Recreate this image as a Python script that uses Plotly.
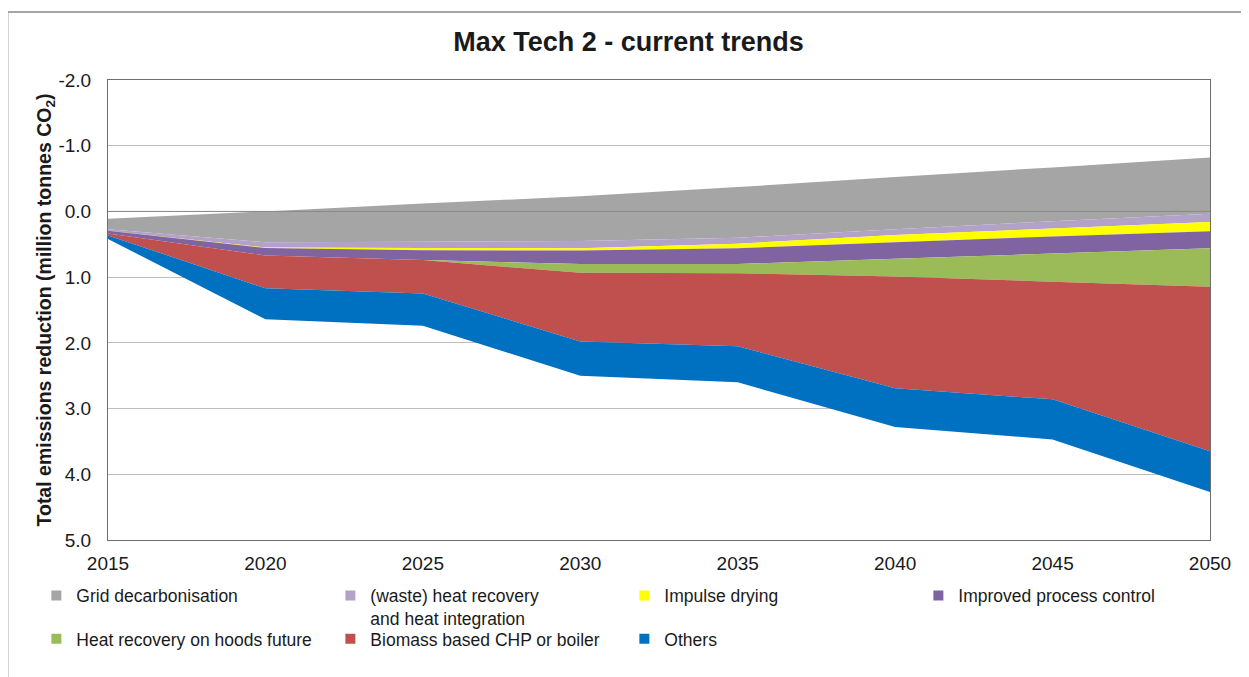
import plotly.graph_objects as go

years = [2015, 2020, 2025, 2030, 2035, 2040, 2045, 2050]

y_ticks = [-2, -1, 0, 1, 2, 3, 4, 5]
y_tick_labels = ["-2.0", "-1.0", "0.0", "1.0", "2.0", "3.0", "4.0", "5.0"]

# upper edge of the grey band (the stack starts here, not at zero)
grid_top = [0.11, 0.0, -0.12, -0.23, -0.37, -0.525, -0.67, -0.82]

grid_decarbonisation = [0.16, 0.47, 0.58, 0.68, 0.77, 0.795, 0.82, 0.855]
waste_heat_recovery = [0.025, 0.08, 0.095, 0.11, 0.09, 0.09, 0.11, 0.125]
impulse_drying = [0.0, 0.005, 0.035, 0.035, 0.07, 0.11, 0.12, 0.14]
improved_process_control = [0.04, 0.115, 0.15, 0.205, 0.24, 0.25, 0.26, 0.26]
heat_recovery_hoods = [0.0, 0.0, 0.0, 0.135, 0.14, 0.27, 0.43, 0.585]
biomass_chp = [0.03, 0.50, 0.51, 1.045, 1.11, 1.70, 1.79, 2.505]
others = [0.055, 0.47, 0.49, 0.52, 0.55, 0.59, 0.61, 0.62]

# (label, values, colour, legend row)
series = [
    ("Grid decarbonisation", grid_decarbonisation, "#a5a5a5", "legend"),
    ("(waste) heat recovery<br>and heat integration", waste_heat_recovery, "#b3a2c7", "legend"),
    ("Impulse drying", impulse_drying, "#ffff00", "legend"),
    ("Improved process control", improved_process_control, "#8064a2", "legend"),
    ("Heat recovery on hoods future", heat_recovery_hoods, "#9bbb59", "legend2"),
    ("Biomass based CHP or boiler", biomass_chp, "#c0504d", "legend2"),
    ("Others", others, "#0070c0", "legend2"),
]

fig = go.Figure()

fig.add_trace(go.Scatter(
    x=years, y=grid_top, stackgroup="s", mode="none",
    fillcolor="rgba(0,0,0,0)", showlegend=False, hoverinfo="skip",
))

for name, values, color, _ in series:
    fig.add_trace(go.Scatter(
        x=years, y=values, stackgroup="s", mode="none",
        fillcolor=color, name=name, showlegend=False, legendgroup=name,
    ))

# square legend swatches like the original, split over two rows
for name, values, color, row in series:
    fig.add_trace(go.Scatter(
        x=[None], y=[None], mode="markers", name=name, legendgroup=name,
        legend=row, marker=dict(symbol="square", size=10, color=color),
    ))

font = "Liberation Sans, Arial, sans-serif"
legend_style = dict(
    orientation="h",
    x=-0.065, xanchor="left",
    yanchor="top",
    entrywidth=249, entrywidthmode="pixels",
    valign="top",
    font=dict(size=17.5),
    itemclick=False,
    bgcolor="rgba(0,0,0,0)",
)

fig.update_layout(
    width=1241,
    height=669,
    margin=dict(l=100, r=39, t=72, b=137),
    paper_bgcolor="white",
    plot_bgcolor="white",
    font=dict(family=font, size=19, color="#1a1a1a"),
    title=dict(
        text="<b>Max Tech 2 - current trends</b>",
        x=0.5, xanchor="center", y=0.95, yanchor="middle",
        font=dict(size=27, color="#1a1a1a"),
    ),
    showlegend=True,
    legend=dict(legend_style, y=-0.082),
    legend2=dict(legend_style, y=-0.176),
    shapes=[
        dict(type="line", xref="paper", yref="y", x0=0, x1=1, y0=0, y1=0,
             line=dict(color="#8a8a8a", width=1), layer="above"),
        dict(type="rect", xref="paper", yref="paper",
             x0=-0.0912, x1=1.05, y0=-0.35, y1=1.1478,
             line=dict(color="#a6a6a6", width=2), layer="below"),
    ],
)

fig.update_xaxes(
    range=[2015, 2050],
    tickvals=years,
    ticks="",
    ticklabelstandoff=6,
    showgrid=False,
    showline=True, linecolor="#6e6e6e", linewidth=1, mirror=True,
    tickfont=dict(size=19),
    zeroline=False,
)

fig.update_yaxes(
    range=[5, -2],
    tickvals=y_ticks,
    ticktext=y_tick_labels,
    ticks="",
    ticklabelstandoff=12,
    showgrid=True, gridcolor="#bdbdbd", gridwidth=1,
    showline=True, linecolor="#6e6e6e", linewidth=1, mirror=True,
    tickfont=dict(size=19),
    zeroline=False,
    title=dict(
        text="<b>Total emissions reduction (million tonnes CO<sub>2</sub>)</b>",
        font=dict(size=19.5),
        standoff=1,
    ),
)

fig.write_html("out.html")
